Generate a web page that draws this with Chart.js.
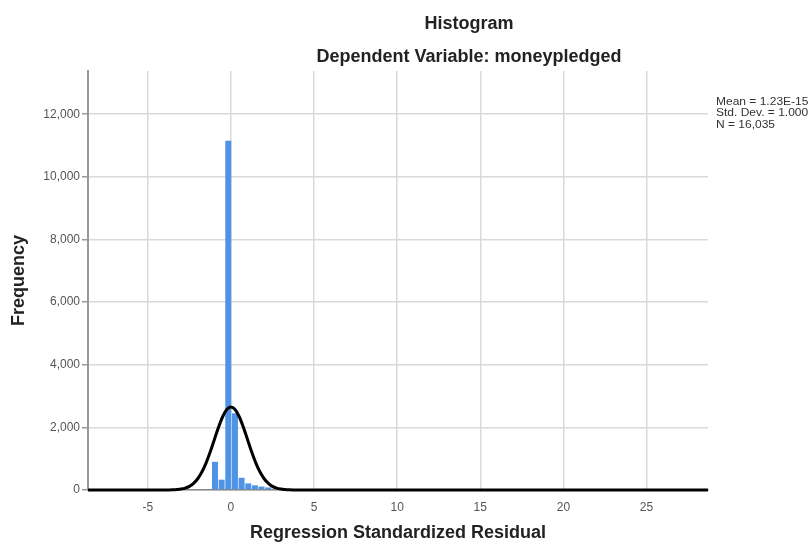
<!DOCTYPE html>
<html>
<head>
<meta charset="utf-8">
<script src="https://cdn.jsdelivr.net/npm/chart.js@4"></script>
<style>
  html, body { margin: 0; padding: 0; background: #fff; }
  #wrap { width: 812px; height: 550px; }
</style>
</head>
<body>
<div id="wrap"><canvas id="myChart" width="812" height="550"></canvas></div>
<script>
// histogram bins (bin centre) and counts
const binCenters = [-1.36, -0.96, -0.56, -0.16, 0.24, 0.64, 1.04, 1.44, 1.84, 2.24, 2.64, 3.04, 3.44];
const binCounts  = [10, 900, 330, 11150, 2450, 390, 210, 150, 110, 80, 40, 15, 8];

// normal curve
const curveX = [-8.6, -4, -3.75, -3.5, -3.25, -3, -2.75, -2.5, -2.25, -2, -1.75, -1.5, -1.25, -1, -0.75, -0.5, -0.25,
                0, 0.25, 0.5, 0.75, 1, 1.25, 1.5, 1.75, 2, 2.25, 2.5, 2.75, 3, 3.25, 3.5, 3.75, 4, 28.7];
const curveY = [0, 1, 2, 6, 14, 29, 60, 116, 211, 359, 573, 860, 1213, 1607, 2000, 2339, 2568,
                2650, 2568, 2339, 2000, 1607, 1213, 860, 573, 359, 211, 116, 60, 29, 14, 6, 2, 1, 0];

const xTicks = [-5, 0, 5, 10, 15, 20, 25];
const yTicks = [0, 2000, 4000, 6000, 8000, 10000, 12000];

const titleText = 'Histogram';
const subtitleText = 'Dependent Variable: moneypledged';
const statsLines = ['Mean = 1.23E-15', 'Std. Dev. = 1.000', 'N = 16,035'];

const FONT = '"Liberation Sans", Arial, sans-serif';

const textPlugin = {
    id: 'spssText',
    afterDraw(chart) {
        const c = chart.ctx;
        c.save();
        c.fillStyle = '#222';
        c.textAlign = 'center';
        c.textBaseline = 'middle';
        c.font = 'bold 18px ' + FONT;
        c.fillText(titleText, 469, 24);
        c.fillText(subtitleText, 469, 57);
        c.restore();

        // stats box, text is a bit wide in the original
        c.save();
        c.translate(716, 0);
        c.scale(1.2, 1);
        c.textAlign = 'left';
        c.textBaseline = 'middle';
        c.font = 'normal 10px ' + FONT;
        c.fillStyle = '#333';
        statsLines.forEach((s, i) => c.fillText(s, 0, 102 + i * 11.5));
        c.restore();
    }
};

const ctx = document.getElementById('myChart').getContext('2d');
const chart = new Chart(ctx, {
    type: 'bar',
    data: {
        datasets: [{
            type: 'line',
            data: curveX.map((x, i) => ({ x: x, y: curveY[i] })),
            borderColor: '#000',
            borderWidth: 3,
            pointRadius: 0,
            cubicInterpolationMode: 'monotone',
            fill: false,
            clip: 6,
            order: 0
        }, {
            type: 'bar',
            data: binCenters.map((x, i) => ({ x: x, y: binCounts[i] })),
            backgroundColor: '#4f93e6',
            borderWidth: 0,
            barPercentage: 0.9,
            categoryPercentage: 1,
            order: 1
        }]
    },
    options: {
        responsive: false,
        animation: false,
        layout: { padding: { left: 0, top: 71, right: 104, bottom: 0 } },
        plugins: { legend: { display: false }, tooltip: { enabled: false } },
        scales: {
            x: {
                type: 'linear',
                min: -8.6,
                max: 28.7,
                offset: false,
                afterBuildTicks: s => { s.ticks = xTicks.map(v => ({ value: v })); },
                afterFit: s => { s.height = 60; },
                grid: { offset: false, color: '#dadada', lineWidth: 1.5, drawTicks: false },
                border: { display: true, color: '#888', width: 1.5 },
                ticks: { padding: 10, color: '#555', font: { family: FONT, size: 12 } },
                title: {
                    display: true,
                    text: 'Regression Standardized Residual',
                    color: '#222',
                    font: { family: FONT, size: 18, weight: 'bold' },
                    padding: { top: 4, bottom: 6 }
                }
            },
            y: {
                min: 0,
                max: 13380,
                afterBuildTicks: s => { s.ticks = yTicks.map(v => ({ value: v })); },
                afterFit: s => { s.width = 88; },
                grid: { color: '#dadada', lineWidth: 1.5, tickLength: 6, tickColor: '#999' },
                border: { display: true, color: '#999', width: 2 },
                ticks: {
                    padding: 2,
                    color: '#555',
                    font: { family: FONT, size: 12 },
                    callback: v => v.toLocaleString('en-US')
                },
                title: {
                    display: true,
                    text: 'Frequency',
                    color: '#222',
                    font: { family: FONT, size: 18, weight: 'bold' },
                    padding: { top: 8, bottom: 0 }
                }
            }
        }
    },
    plugins: [textPlugin]
});
</script>
</body>
</html>
